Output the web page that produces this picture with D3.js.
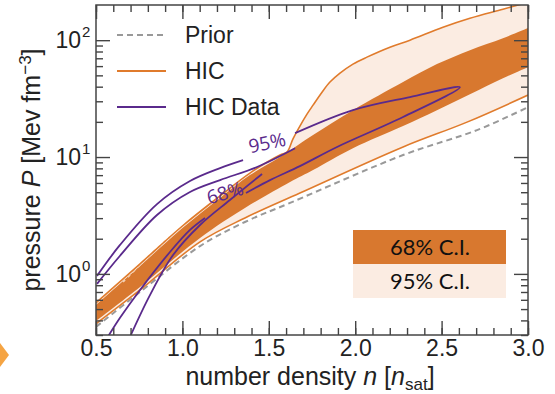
<!DOCTYPE html>
<html>
<head>
<meta charset="utf-8">
<script src="https://cdn.jsdelivr.net/npm/d3@7"></script>
<style>
  body { margin: 0; background: #fff; }
  .tick text { font-family: "Liberation Sans", Arial, sans-serif; font-size: 23px; fill: #222; }
</style>
</head>
<body>
<div class="chart"></div>
<script>
// number density (n_sat) and pressure (MeV fm^-3)

// 95% C.I. of the HIC posterior (light band)
var ci95UpperN = [0.5, 0.755, 1.0, 1.218, 1.391, 1.565, 1.605, 1.64, 1.68, 1.721, 1.756, 1.808, 1.854, 1.912, 1.987, 2.068, 2.201, 2.317, 2.508, 2.664, 2.855, 3.0];
var ci95UpperP = [0.565, 1.22, 2.57, 4.65, 7.29, 10.4, 11.0, 14.3, 18.4, 23.3, 27.8, 35.9, 43.8, 52.2, 62.4, 71.6, 87.1, 100, 129, 154, 184, 211];
var ci95LowerN = [0.5, 0.755, 1.102, 1.362, 1.68, 2.277, 2.647, 3.0];
var ci95LowerP = [0.374, 0.729, 1.88, 3.01, 4.92, 12.2, 19.9, 33.9];

// 68% C.I. of the HIC posterior (dark band)
var ci68UpperN = [0.5, 0.755, 1.0, 1.218, 1.391, 1.565, 1.756, 1.987, 2.277, 2.473, 2.664, 2.855, 3.0];
var ci68UpperP = [0.543, 1.17, 2.47, 4.47, 7.01, 10.0, 15.4, 25.2, 43.8, 62.4, 82.2, 104, 127];
var ci68LowerN = [0.5, 0.755, 1.102, 1.362, 1.623, 1.756, 1.987, 2.277, 2.473, 2.664, 2.855, 3.0];
var ci68LowerP = [0.396, 0.774, 2.03, 3.66, 6.11, 7.74, 11.9, 18.4, 25.2, 34.5, 47.3, 58.7];

// prior bounds (dashed)
var priorLowerN = [0.5, 0.755, 1.102, 1.362, 1.623, 2.277, 2.705, 3.0];
var priorLowerP = [0.352, 0.701, 1.73, 2.78, 4.05, 10.4, 17.0, 26.7];
var priorUpperN = [0.656, 0.795, 0.928];
var priorUpperP = [0.855, 1.37, 2.07];

// HIC data contours, one array per drawn stroke
var hicSegments = [
  { n: [0.506, 0.639, 0.853, 1.044, 1.218, 1.351],
    p: [0.962, 1.77, 3.96, 6.24, 8.05, 9.42] },
  { n: [1.652, 1.987, 2.317, 2.606, 2.277, 1.895, 1.68, 1.507, 1.368],
    p: [16.0, 25.2, 32.6, 39.6, 22.0, 12.2, 8.37, 6.35, 4.92] },
  { n: [1.131, 1.044, 0.928, 0.755, 0.639, 0.569],
    p: [3.01, 2.38, 1.54, 0.729, 0.421, 0.290] },
  { n: [0.506, 0.639, 0.853, 1.044, 1.218, 1.432, 1.652],
    p: [0.822, 1.43, 3.19, 5.02, 6.35, 8.22, 11.9] },
  { n: [0.697, 0.813, 0.946, 1.102, 1.275, 1.461],
    p: [0.290, 0.662, 1.45, 2.62, 4.29, 7.16] }
];
var contourLabels = ["95%", "68%"];
var contourLabelN = [1.49, 1.247];
var contourLabelP = [13.2, 4.92];

var xMajor = [0.5, 1.0, 1.5, 2.0, 2.5, 3.0];
var xTickLabels = ["0.5", "1.0", "1.5", "2.0", "2.5", "3.0"];
var yMajor = [1, 10, 100];
var yTickExp = ["0", "1", "2"];

var legendLabels = ["Prior", "HIC", "HIC Data"];
var ciLabels = ["68% C.I.", "95% C.I."];

// colours
var darkOrange = "#d8782f";
var lightOrange = "#fbece2";
var lineOrange = "#e07b2c";
var purple = "#5a2a8c";
var grey = "#999";

var svgWidth = 555, svgHeight = 394;
var margin = { top: 5, right: 27, bottom: 59, left: 96 };
var width = svgWidth - margin.left - margin.right;
var height = svgHeight - margin.top - margin.bottom;

var svg = d3.select(".chart").append("svg")
  .attr("width", svgWidth)
  .attr("height", svgHeight);

var chart = svg.append("g")
  .attr("transform", "translate(" + margin.left + "," + margin.top + ")");

var x = d3.scaleLinear().domain([0.5, 3.0]).range([0, width]);
var y = d3.scaleLog().domain([0.3, 200]).range([height, 0]);

function pts(ns, ps) {
  return ns.map(function(d, i) { return [x(d), y(ps[i])]; });
}

var line = d3.line().curve(d3.curveCatmullRom.alpha(0.5));

function band(upN, upP, loN, loP) {
  var a = line(pts(upN, upP));
  var b = line(pts(loN, loP).reverse());
  return a + "L" + b.slice(1) + "Z";
}

chart.append("clipPath").attr("id", "clip")
  .append("rect").attr("width", width).attr("height", height);

var plot = chart.append("g").attr("clip-path", "url(#clip)");

plot.append("path")
  .attr("d", band(ci95UpperN, ci95UpperP, ci95LowerN, ci95LowerP))
  .attr("fill", lightOrange);

plot.append("path")
  .attr("d", band(ci68UpperN, ci68UpperP, ci68LowerN, ci68LowerP))
  .attr("fill", darkOrange);

plot.append("path")
  .attr("d", line(pts(priorLowerN, priorLowerP)))
  .attr("fill", "none").attr("stroke", grey)
  .attr("stroke-width", 2).attr("stroke-dasharray", "6,4");

plot.append("path")
  .attr("d", line(pts(priorUpperN, priorUpperP)))
  .attr("fill", "none").attr("stroke", "#f3cfb1")
  .attr("stroke-width", 2).attr("stroke-dasharray", "3,4");

[[ci95UpperN, ci95UpperP], [ci95LowerN, ci95LowerP]].forEach(function(s) {
  plot.append("path")
    .attr("d", line(pts(s[0], s[1])))
    .attr("fill", "none").attr("stroke", lineOrange).attr("stroke-width", 1.6);
});

hicSegments.forEach(function(s) {
  plot.append("path")
    .attr("d", line(pts(s.n, s.p)))
    .attr("fill", "none").attr("stroke", purple).attr("stroke-width", 1.8);
});

contourLabels.forEach(function(t, i) {
  chart.append("text")
    .attr("transform", "translate(" + x(contourLabelN[i]) + "," + y(contourLabelP[i]) + ") rotate(" + (i === 0 ? -12 : -16) + ")")
    .attr("text-anchor", "middle")
    .attr("dy", "0.35em")
    .style("font-family", "'Open Sans', sans-serif")
    .style("font-size", "19px")
    .attr("fill", purple)
    .text(t);
});

// axes: inward ticks on all four sides
var xMinor = d3.range(0.5, 3.0001, 0.1);
var yMinor = [];
[0.1, 1, 10, 100].forEach(function(dec) {
  for (var k = 2; k <= 9; k++) {
    var v = dec * k;
    if (v >= 0.3 && v < 200) yMinor.push(v);
  }
});

function styleAxis(g) {
  g.select(".domain").remove();
  g.selectAll("line").attr("stroke", "#444").attr("stroke-width", 1.4);
}

chart.append("g").attr("transform", "translate(0," + height + ")")
  .call(d3.axisBottom(x).tickValues(xMinor).tickSize(-7).tickFormat("")).call(styleAxis);
chart.append("g").attr("transform", "translate(0," + height + ")")
  .call(d3.axisBottom(x).tickValues(xMajor).tickSize(-14).tickPadding(5)
    .tickFormat(function(d, i) { return xTickLabels[i]; }))
  .call(styleAxis);
chart.append("g")
  .call(d3.axisTop(x).tickValues(xMinor).tickSize(-7).tickFormat("")).call(styleAxis);
chart.append("g")
  .call(d3.axisTop(x).tickValues(xMajor).tickSize(-14).tickFormat("")).call(styleAxis);

chart.append("g")
  .call(d3.axisLeft(y).tickValues(yMinor).tickSize(-7).tickFormat("")).call(styleAxis);
chart.append("g")
  .call(d3.axisLeft(y).tickValues(yMajor).tickSize(-14).tickFormat("")).call(styleAxis);
chart.append("g").attr("transform", "translate(" + width + ",0)")
  .call(d3.axisRight(y).tickValues(yMinor).tickSize(-7).tickFormat("")).call(styleAxis);
chart.append("g").attr("transform", "translate(" + width + ",0)")
  .call(d3.axisRight(y).tickValues(yMajor).tickSize(-14).tickFormat("")).call(styleAxis);

yMajor.forEach(function(v, i) {
  chart.append("text")
    .attr("x", -15).attr("y", y(v) + 8)
    .attr("text-anchor", "end")
    .style("font-family", "'Liberation Sans', Arial, sans-serif")
    .style("font-size", "23px").attr("fill", "#222")
    .text("10");
  chart.append("text")
    .attr("x", -14).attr("y", y(v) - 3)
    .style("font-family", "'Liberation Sans', Arial, sans-serif")
    .style("font-size", "15px").attr("fill", "#222")
    .text(yTickExp[i]);
});

chart.append("rect")
  .attr("width", width).attr("height", height)
  .attr("fill", "none").attr("stroke", "#444").attr("stroke-width", 1.5);

// axis titles
var xt = svg.append("text")
  .attr("x", 310).attr("y", 385)
  .attr("text-anchor", "middle")
  .style("font-family", "'Liberation Sans', Arial, sans-serif")
  .style("font-size", "25px").attr("fill", "#222");
xt.append("tspan").text("number density ");
xt.append("tspan").style("font-style", "italic").text("n");
xt.append("tspan").text(" [");
xt.append("tspan").style("font-style", "italic").text("n");
xt.append("tspan").attr("dy", 5).style("font-size", "17px").text("sat");
xt.append("tspan").attr("dy", -5).text("]");

var yt = svg.append("text")
  .attr("transform", "translate(40,170) rotate(-90)")
  .attr("text-anchor", "middle")
  .style("font-family", "'Liberation Sans', Arial, sans-serif")
  .style("font-size", "25px").attr("fill", "#222");
yt.append("tspan").text("pressure ");
yt.append("tspan").style("font-style", "italic").text("P");
yt.append("tspan").text(" [Mev fm");
yt.append("tspan").attr("dy", -9).style("font-size", "17px").text("\u22123");
yt.append("tspan").attr("dy", 9).text("]");

// legend
var legendY = [35, 71, 107];
var legendStyle = [
  { stroke: grey, dash: "6,4" },
  { stroke: lineOrange, dash: null },
  { stroke: purple, dash: null }
];
legendLabels.forEach(function(t, i) {
  svg.append("line")
    .attr("x1", 117).attr("x2", 166)
    .attr("y1", legendY[i]).attr("y2", legendY[i])
    .attr("stroke", legendStyle[i].stroke).attr("stroke-width", 2)
    .attr("stroke-dasharray", legendStyle[i].dash);
  svg.append("text")
    .attr("x", 185).attr("y", legendY[i] + 8)
    .style("font-family", "'Liberation Sans', Arial, sans-serif")
    .style("font-size", "23px").attr("fill", "#222")
    .text(t);
});

// C.I. key boxes
var ciFill = [darkOrange, lightOrange];
ciLabels.forEach(function(t, i) {
  svg.append("rect")
    .attr("x", 353).attr("y", 230 + i * 34)
    .attr("width", 153).attr("height", 34)
    .attr("fill", ciFill[i]);
  svg.append("text")
    .attr("x", 430).attr("y", 255 + i * 34)
    .attr("text-anchor", "middle")
    .style("font-family", "Lato, sans-serif")
    .style("font-size", "22px").attr("fill", "#111")
    .text(t);
});

// slide arrow fragment at the left edge
svg.append("path")
  .attr("d", "M0,343L9,355L0,367Z")
  .attr("fill", "#f5a443");
</script>
</body>
</html>
